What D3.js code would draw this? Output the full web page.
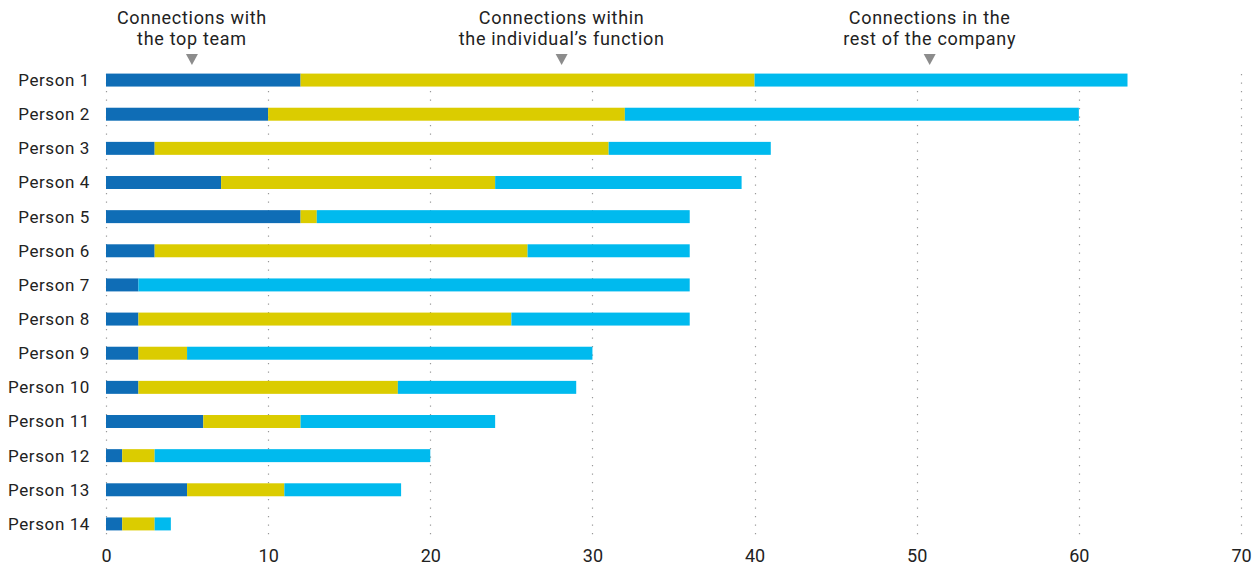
<!DOCTYPE html>
<html lang="en">
	<head>
		<meta charset="utf-8">
		<title>Connections</title>
		<script type="text/javascript" src="https://cdn.jsdelivr.net/npm/d3@7"></script>
		<style type="text/css">
			body{
				margin: 0;
				background: white;
			}
			text{
				font-family: Roboto, sans-serif;
				fill: #222;
			}
			.label{
				font-size: 17px;
				letter-spacing: 0.6px;
			}
			.tick text{
				font-size: 18px;
			}
			.head{
				font-size: 18px;
				letter-spacing: 0.7px;
			}
		</style>
	</head>
	<body>
		<div class="chart"></div>
		<script type="text/javascript">

			var people = ["Person 1","Person 2","Person 3","Person 4","Person 5","Person 6","Person 7",
				"Person 8","Person 9","Person 10","Person 11","Person 12","Person 13","Person 14"];

			// number of connections per group
			var topTeam  = [12, 10, 3, 7.1, 12, 3, 2, 2, 2, 2, 6, 1, 5, 1];
			var ownFunc  = [28, 22, 28, 16.9, 1, 23, 0, 23, 3, 16, 6, 2, 6, 2];
			var restComp = [23, 28, 10, 15.2, 23, 10, 34, 11, 25, 11, 12, 17, 7.2, 1];

			var groups = ["top", "func", "rest"];
			var groupNames = [["Connections with", "the top team"],
				["Connections within", "the individual\u2019s function"],
				["Connections in the", "rest of the company"]];
			var groupMarks = [5.3, 28.1, 50.8];
			var colors = ["#0f6db6", "#dbcc00", "#00baee"];

			var xTicks = [0, 10, 20, 30, 40, 50, 60, 70];

			var w = 1259;
			var h = 571;

			var mLeft = 106;
			var mRight = 1241;
			var mTop = 63;
			var mBottom = 541;

			var svg = d3.select("div.chart")
						.append("svg")
						.attr("width", w)
						.attr("height", h);

			var xScale = d3.scaleLinear()
						.domain([0, 70])
						.range([mLeft, mRight]);

			var yScale = d3.scaleBand()
						.domain(people)
						.range([mTop, mBottom])
						.paddingInner(0.62)
						.paddingOuter(0.31);

			// dotted grid
			svg.append("g")
				.selectAll("line")
				.data(xTicks)
				.enter()
				.append("line")
				.attr("x1", (d) => Math.round(xScale(d)) + 0.5)
				.attr("x2", (d) => Math.round(xScale(d)) + 0.5)
				.attr("y1", 74)
				.attr("y2", 540)
				.attr("stroke", "#999")
				.attr("stroke-width", 1.2)
				.attr("stroke-dasharray", "1.2,7.3");

			var dataset = people.map(function(p, i){
				return {name: p, top: topTeam[i], func: ownFunc[i], rest: restComp[i]};
			});

			var stacked = d3.stack().keys(groups)(dataset);

			svg.append("g")
				.selectAll("g")
				.data(stacked)
				.enter()
				.append("g")
				.attr("fill", (d, i) => colors[i])
				.selectAll("rect")
				.data((d) => d)
				.enter()
				.append("rect")
				.attr("x", (d) => xScale(d[0]))
				.attr("width", (d) => xScale(d[1]) - xScale(d[0]))
				.attr("y", (d) => yScale(d.data.name))
				.attr("height", yScale.bandwidth());

			// person labels
			svg.append("g")
				.selectAll("text")
				.data(people)
				.enter()
				.append("text")
				.attr("class", "label")
				.attr("x", 90)
				.attr("y", (d) => yScale(d) + yScale.bandwidth() / 2)
				.attr("dy", "0.35em")
				.attr("text-anchor", "end")
				.text((d) => d);

			var xAxis = d3.axisBottom(xScale)
						.tickValues(xTicks)
						.tickSize(0)
						.tickPadding(0);

			var axisG = svg.append("g")
				.attr("transform", "translate(0,551)")
				.call(xAxis);
			axisG.select(".domain").remove();
			axisG.selectAll("text").attr("dy", "0.6em").style("font-family", "Roboto, sans-serif").attr("fill", "#222");

			// group headings with arrows
			var head = svg.append("g")
						.selectAll("g")
						.data(groupNames)
						.enter()
						.append("g")
						.attr("transform", (d, i) => "translate(" + xScale(groupMarks[i]) + ",0)");

			head.append("text")
				.attr("class", "head")
				.attr("text-anchor", "middle")
				.attr("y", 24)
				.text((d) => d[0]);
			head.append("text")
				.attr("class", "head")
				.attr("text-anchor", "middle")
				.attr("y", 45)
				.text((d) => d[1]);
			head.append("path")
				.attr("d", "M-6,54 L6,54 L0,65 Z")
				.attr("fill", "#8c8c8c");

		</script>
	</body>
</html>
